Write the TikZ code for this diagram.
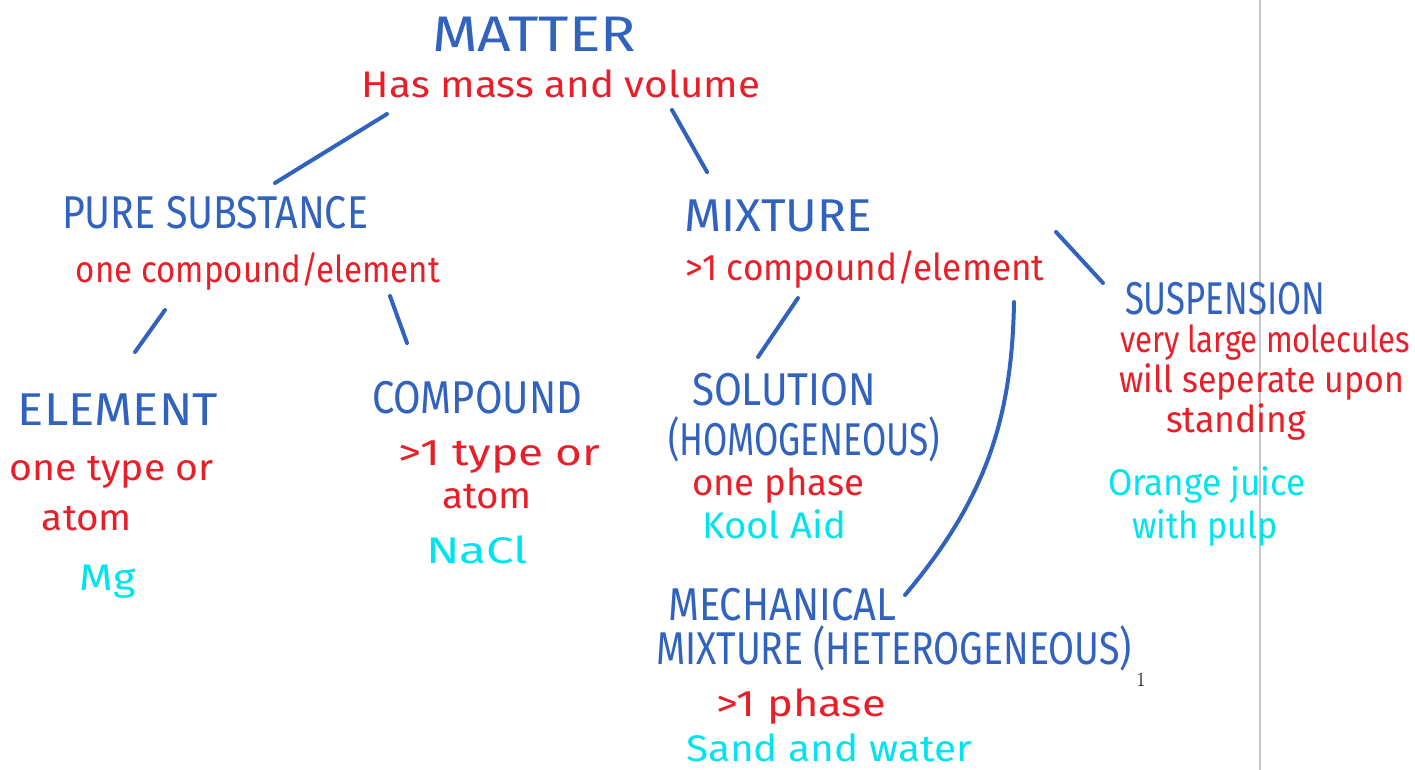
\documentclass[tikz,border=0pt]{standalone}
\usepackage{fontspec}
\usepackage{graphicx}
\setmainfont{Fira Sans}
\newfontfamily\lmfont{Latin Modern Roman}
\definecolor{inkblue}{RGB}{48,98,190}
\definecolor{inkred}{RGB}{232,30,40}
\definecolor{inkcyan}{RGB}{0,228,240}
\definecolor{pagegray}{RGB}{200,200,200}
\newcommand\W[2]{\resizebox{#1pt}{\height}{#2}}
\tikzset{
  hw/.style={inner sep=0pt, anchor=base},
  head/.style={hw, text=inkblue, font=\fontsize{46}{46}\selectfont},
  note/.style={hw, text=inkred, font=\fontsize{37}{37}\selectfont},
  example/.style={hw, text=inkcyan, font=\fontsize{37}{37}\selectfont},
  link/.style={draw=inkblue, line width=4pt, line cap=round},
}
\begin{document}
\begin{tikzpicture}[x=1pt,y=-1pt]
\useasboundingbox (0,0) rectangle (1415,770);
\draw[pagegray, line width=2pt] (1260,0) coordinate (pg1) -- (1260,770) coordinate (pg2);

% headings
\node[head, font=\fontsize{50}{50}\selectfont] (matter) at (534,52) {\W{204}{MATTER}};
\node[head] (pure) at (215,229) {\W{306}{PURE SUBSTANCE}};
\node[head] (element) at (118,425) {\W{200}{ELEMENT}};
\node[head] (compound) at (477,413) {\W{210}{COMPOUND}};
\node[head] (mixture) at (778,232) {\W{188}{MIXTURE}};
\node[head] (solution) at (784,405) {\W{184}{SOLUTION}};
\node[head] (homog) at (804,455) {\W{272}{(HOMOGENEOUS)}};
\node[head] (mech) at (782,620) {\W{228}{MECHANICAL}};
\node[head] (heterog) at (894,664) {\W{476}{MIXTURE (HETEROGENEOUS)}};
\node[head] (susp) at (1225,314) {\W{200}{SUSPENSION}};

% red notes
\node[note] (massvol) at (561,98) {\W{398}{Has mass and volume}};
\node[note] (onecomp) at (258,282) {\W{364}{one compound/element}};
\node[note] (morecomp) at (865,280) {\W{359}{>1 compound/element}};
\node[note] (eltype) at (112,480) {\W{204}{one type or}};
\node[note] (elatom) at (87,530) {\W{90}{atom}};
\node[note] (cptype) at (499,465) {\W{202}{>1 type or}};
\node[note] (cpatom) at (487,508) {\W{90}{atom}};
\node[note] (onephase) at (778,495) {\W{172}{one phase}};
\node[note] (morephase) at (801,716) {\W{170}{>1 phase}};
\node[note] (large) at (1265,352) {\W{290}{very large molecules}};
\node[note] (separate) at (1262,392) {\W{285}{will seperate upon}};
\node[note] (standing) at (1236,432) {\W{140}{standing}};

% cyan examples
\node[example] (mg) at (108,590) {\W{56}{Mg}};
\node[example] (nacl) at (477,563) {\W{102}{NaCl}};
\node[example] (kool) at (774,538) {\W{144}{Kool Aid}};
\node[example] (sand) at (829,761) {\W{286}{Sand and water}};
\node[example] (orange) at (1207,495) {\W{198}{Orange juice}};
\node[example] (pulp) at (1205,538) {\W{146}{with pulp}};

% page number
\node[hw, font=\lmfont\fontsize{20}{20}\selectfont] (pnum) at (1141,686) {1};

% connectors
\coordinate (a1) at (387,114); \coordinate (a2) at (275,183);
\coordinate (b1) at (672,110); \coordinate (b2) at (707,172);
\coordinate (c1) at (165,310); \coordinate (c2) at (135,352);
\coordinate (d1) at (390,296); \coordinate (d2) at (407,343);
\coordinate (e1) at (798,298); \coordinate (e2) at (758,357);
\coordinate (f1) at (1014,302); \coordinate (f2) at (905,595);
\coordinate (g1) at (1056,232); \coordinate (g2) at (1103,283);
\draw[link] (a1) -- (a2);
\draw[link] (b1) -- (b2);
\draw[link] (c1) -- (c2);
\draw[link] (d1) -- (d2);
\draw[link] (e1) -- (e2);
\draw[link] (f1) .. controls (1012,420) and (985,500) .. (f2);
\draw[link] (g1) -- (g2);
\end{tikzpicture}
\end{document}
